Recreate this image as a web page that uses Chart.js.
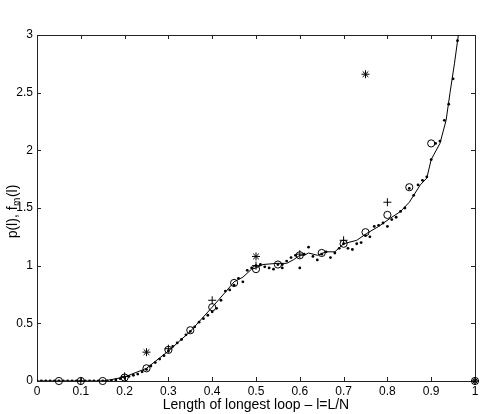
<!DOCTYPE html>
<html>
<head>
<meta charset="utf-8">
<script src="https://cdn.jsdelivr.net/npm/chart.js@4/dist/chart.umd.min.js"></script>
<style>
  html, body { margin: 0; padding: 0; background: #fff; }
  #wrap { width: 483px; height: 414px; }
</style>
</head>
<body>
<div id="wrap"><canvas id="chart" width="483" height="414"></canvas></div>
<script>
// tick labels
const xTicks = [0, 0.1, 0.2, 0.3, 0.4, 0.5, 0.6, 0.7, 0.8, 0.9, 1];
const yTicks = [0, 0.5, 1, 1.5, 2, 2.5, 3];

// solid curve
const lineX = [0, 0.15, 0.167, 0.2, 0.25, 0.3, 0.35, 0.4, 0.43, 0.45, 0.47, 0.49, 0.5, 0.516, 0.548, 0.57,
  0.585, 0.6, 0.61, 0.62, 0.64, 0.66, 0.68, 0.7, 0.73, 0.753, 0.78, 0.806, 0.83, 0.85, 0.875, 0.89, 0.9,
  0.92, 0.934, 0.943, 0.953, 0.962, 0.97];
const lineY = [0, 0, 0.01, 0.035, 0.11, 0.26, 0.43, 0.64, 0.77, 0.86, 0.9, 0.97, 0.98, 1.01, 1.02, 1.02,
  1.05, 1.09, 1.09, 1.11, 1.09, 1.12, 1.12, 1.19, 1.22, 1.28, 1.34, 1.41, 1.47, 1.55, 1.7, 1.76, 1.92,
  2.06, 2.26, 2.5, 2.75, 3.0, 3.3];

// small dots, one every 0.01
const dotX = [0, 0.01, 0.02, 0.03, 0.04, 0.05, 0.06, 0.07, 0.08, 0.09, 0.1, 0.11, 0.12, 0.13, 0.14, 0.15,
  0.16, 0.17, 0.18, 0.19, 0.2, 0.21, 0.22, 0.23, 0.24, 0.25, 0.26, 0.27, 0.28, 0.29, 0.3, 0.31, 0.32, 0.33,
  0.34, 0.35, 0.36, 0.37, 0.38, 0.39, 0.4, 0.41, 0.42, 0.43, 0.44, 0.45, 0.46, 0.47, 0.48, 0.49, 0.5, 0.51,
  0.52, 0.53, 0.54, 0.55, 0.56, 0.56, 0.57, 0.58, 0.59, 0.6, 0.61, 0.62, 0.63, 0.64, 0.65, 0.66, 0.67, 0.68,
  0.69, 0.7, 0.71, 0.72, 0.73, 0.74, 0.75, 0.76, 0.77, 0.78, 0.79, 0.8, 0.81, 0.82, 0.83, 0.84, 0.85, 0.86,
  0.87, 0.88, 0.89, 0.9, 0.91, 0.92, 0.93, 0.94, 0.95, 0.96];
const dotY = [0, 0, 0, 0, 0, 0, 0, 0, 0, 0, 0, 0, 0, 0, 0, 0,
  0, 0.005, 0.01, 0.02, 0.03, 0.04, 0.05, 0.06, 0.08, 0.1, 0.13, 0.16, 0.19, 0.22, 0.26, 0.3, 0.33, 0.36,
  0.4, 0.43, 0.47, 0.51, 0.54, 0.57, 0.6, 0.63, 0.7, 0.78, 0.79, 0.83, 0.89, 0.86, 0.96, 0.98, 1.0, 1.01,
  0.99, 0.98, 0.97, 1.01, 0.98, 1.01, 1.04, 1.07, 1.09, 0.98, 1.1, 1.16, 1.08, 1.05, 1.1, 1.12, 1.07, 1.11,
  1.15, 1.19, 1.15, 1.14, 1.19, 1.2, 1.26, 1.25, 1.34, 1.35, 1.37, 1.34, 1.4, 1.42, 1.47, 1.5, 1.67, 1.61,
  1.7, 1.74, 1.77, 1.92, 2.06, 2.08, 2.26, 2.4, 2.62, 2.95];

// circles
const circX = [0.05, 0.1, 0.15, 0.2, 0.25, 0.3, 0.35, 0.4, 0.45, 0.5, 0.55, 0.6, 0.65, 0.7, 0.75, 0.8, 0.85, 0.9, 1];
const circY = [0, 0, 0, 0.03, 0.11, 0.27, 0.44, 0.64, 0.85, 0.97, 1.01, 1.09, 1.11, 1.19, 1.29, 1.44, 1.68, 2.06, 0];

// plus signs
const plusX = [0.1, 0.2, 0.3, 0.4, 0.5, 0.6, 0.7, 0.8, 1];
const plusY = [0, 0.04, 0.28, 0.7, 1.0, 1.1, 1.22, 1.55, 0];

// asterisks
const starX = [0.25, 0.5, 0.75, 1];
const starY = [0.25, 1.08, 2.66, 0];

function pts(xs, ys) {
  return xs.map((x, i) => ({ x: x, y: ys[i] }));
}

const FONT = '"Liberation Sans", Arial, Helvetica, sans-serif';

const framePlugin = {
  id: 'frame',
  beforeDatasetsDraw(chart) {
    const ctx = chart.ctx;
    const a = chart.chartArea;
    const sx = chart.scales.x, sy = chart.scales.y;
    const tl = 4;
    ctx.save();
    ctx.strokeStyle = '#222';
    ctx.lineWidth = 1;
    ctx.beginPath();
    ctx.rect(Math.round(a.left) + 0.5, Math.round(a.top) + 0.5,
      Math.round(a.right - a.left), Math.round(a.bottom - a.top));
    xTicks.forEach(v => {
      const px = Math.round(sx.getPixelForValue(v)) + 0.5;
      ctx.moveTo(px, a.bottom); ctx.lineTo(px, a.bottom - tl);
      ctx.moveTo(px, a.top); ctx.lineTo(px, a.top + tl);
    });
    yTicks.forEach(v => {
      const py = Math.round(sy.getPixelForValue(v)) + 0.5;
      ctx.moveTo(a.left, py); ctx.lineTo(a.left + tl, py);
      ctx.moveTo(a.right, py); ctx.lineTo(a.right - tl, py);
    });
    ctx.stroke();

    // axis titles
    ctx.fillStyle = '#000';
    ctx.font = '14px ' + FONT;
    ctx.textAlign = 'center';
    ctx.textBaseline = 'middle';
    ctx.fillText('Length of longest loop \u2013 l=L/N', (a.left + a.right) / 2, 405);

    ctx.translate(13, (a.top + a.bottom) / 2 + 4);
    ctx.rotate(-Math.PI / 2);
    const p1 = 'p(l), f', sub = 'm', p2 = '(l)';
    ctx.font = '14px ' + FONT;
    const w1 = ctx.measureText(p1).width, w3 = ctx.measureText(p2).width;
    ctx.font = '10px ' + FONT;
    const w2 = ctx.measureText(sub).width;
    let x0 = -(w1 + w2 + w3) / 2;
    ctx.textAlign = 'left';
    ctx.font = '14px ' + FONT;
    ctx.fillText(p1, x0, 0);
    ctx.font = '10px ' + FONT;
    ctx.fillText(sub, x0 + w1 + 0.5, 4);
    ctx.font = '14px ' + FONT;
    ctx.fillText(p2, x0 + w1 + w2 + 1, 0);
    ctx.restore();
  }
};

new Chart(document.getElementById('chart'), {
  type: 'scatter',
  data: {
    datasets: [
      {
        label: 'curve',
        data: pts(lineX, lineY),
        showLine: true,
        borderColor: '#000',
        borderWidth: 1,
        pointRadius: 0,
        tension: 0
      },
      {
        label: 'dots',
        data: pts(dotX, dotY),
        pointStyle: 'circle',
        pointRadius: 1.4,
        backgroundColor: '#000',
        borderColor: '#000',
        borderWidth: 0
      },
      {
        label: 'circles',
        data: pts(circX, circY),
        clip: false,
        pointStyle: 'circle',
        pointRadius: 3.6,
        backgroundColor: 'rgba(0,0,0,0)',
        borderColor: '#000',
        borderWidth: 1
      },
      {
        label: 'plus',
        data: pts(plusX, plusY),
        clip: false,
        pointStyle: 'cross',
        pointRadius: 4,
        borderColor: '#000',
        borderWidth: 1
      },
      {
        label: 'star',
        data: pts(starX, starY),
        clip: false,
        pointStyle: 'star',
        pointRadius: 4,
        borderColor: '#000',
        borderWidth: 1
      }
    ]
  },
  options: {
    responsive: false,
    animation: false,
    layout: { padding: { top: 35, right: 8, left: 0, bottom: 0 } },
    plugins: { legend: { display: false }, tooltip: { enabled: false } },
    scales: {
      x: {
        type: 'linear',
        min: 0,
        max: 1,
        afterBuildTicks: s => { s.ticks = xTicks.map(v => ({ value: v })); },
        afterFit: s => { s.height = 33; },
        grid: { display: false, drawTicks: false },
        border: { display: false },
        ticks: {
          padding: 3,
          color: '#000',
          maxRotation: 0,
          autoSkip: false,
          font: { family: FONT, size: 12 },
          callback: v => String(Number(v.toFixed(1)))
        }
      },
      y: {
        type: 'linear',
        min: 0,
        max: 3,
        afterBuildTicks: s => { s.ticks = yTicks.map(v => ({ value: v })); },
        afterFit: s => { s.width = 37; },
        grid: { display: false, drawTicks: false },
        border: { display: false },
        ticks: {
          padding: 4,
          color: '#000',
          autoSkip: false,
          font: { family: FONT, size: 12 },
          callback: v => String(Number(v.toFixed(1)))
        }
      }
    }
  },
  plugins: [framePlugin]
});
</script>
</body>
</html>
